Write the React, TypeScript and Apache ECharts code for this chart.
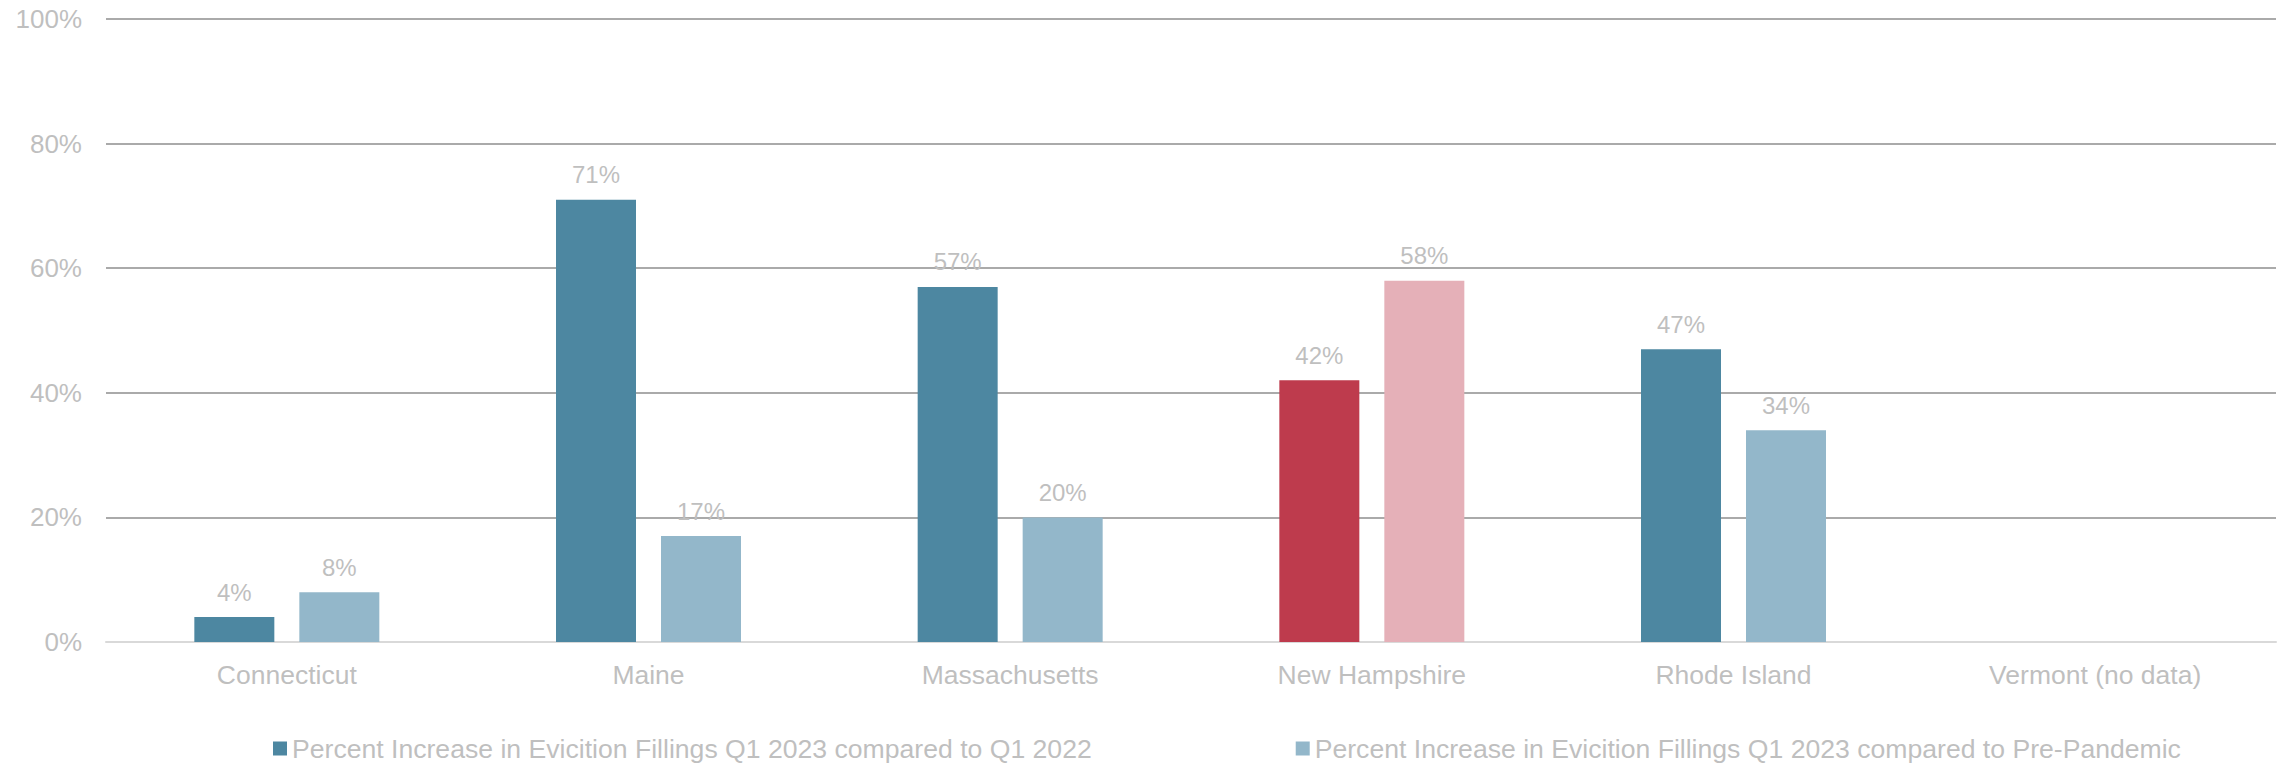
import React, { useEffect, useRef } from "react";
import * as echarts from "echarts";

const states = ["Connecticut", "Maine", "Massachusetts", "New Hampshire", "Rhode Island", "Vermont (no data)"];
const vsQ12022 = [4, 71, 57, 42, 47, null];
const vsPrePandemic = [8, 17, 20, 58, 34, null];
const seriesNames = [
  "Percent Increase in Evicition Fillings Q1 2023 compared to Q1 2022",
  "Percent Increase in Evicition Fillings Q1 2023 compared to Pre-Pandemic",
];
const yTicks = [0, 20, 40, 60, 80, 100];
const highlightState = "New Hampshire";

const DARK = "#4D87A1";
const LIGHT = "#93B7CA";
const RED = "#BE3B4D";
const PINK = "#E5B0B8";
const TEXT = "#BFBFBF";

export default function App() {
  const ref = useRef<HTMLDivElement>(null);
  useEffect(() => {
    document.body.style.margin = "0";
    const chart = echarts.init(ref.current!, null, { renderer: "svg" });
    const mk = (vals: (number | null)[], base: string, hi: string) =>
      vals.map((v, i) => ({
        value: v,
        itemStyle: { color: states[i] === highlightState ? hi : base },
      }));
    const label = {
      show: true,
      position: "top" as const,
      distance: 13,
      color: TEXT,
      fontSize: 24,
      fontFamily: "Liberation Sans, Arial, sans-serif",
      formatter: (p: any) => (p.value == null ? "" : p.value + "%"),
    };
    chart.setOption({
      animation: false,
      textStyle: { fontFamily: "Liberation Sans, Arial, sans-serif" },
      grid: { left: 106, right: 12, top: 19, bottom: 123, containLabel: false },
      legend: {
        left: 268,
        top: 730,
        itemWidth: 14,
        itemHeight: 14,
        itemGap: 204,
        icon: "rect",
        textStyle: { color: TEXT, fontSize: 26.6 },
        data: seriesNames,
      },
      xAxis: {
        type: "category",
        data: states,
        axisLine: { lineStyle: { color: "#D9D9D9", width: 2 } },
        axisTick: { show: false },
        axisLabel: { color: TEXT, fontSize: 26.5, margin: 19 },
      },
      yAxis: {
        type: "value",
        min: yTicks[0],
        max: yTicks[yTicks.length - 1],
        interval: yTicks[1] - yTicks[0],
        axisLine: { show: false },
        axisTick: { show: false },
        axisLabel: { color: TEXT, fontSize: 26, margin: 24, formatter: "{value}%" },
        splitLine: { lineStyle: { color: "#AAAAAA", width: 2 } },
      },
      series: [
        {
          name: seriesNames[0],
          type: "bar",
          barWidth: 80,
          barGap: "31.25%",
          itemStyle: { color: DARK },
          data: mk(vsQ12022, DARK, RED),
          label,
        },
        {
          name: seriesNames[1],
          type: "bar",
          barWidth: 80,
          itemStyle: { color: LIGHT },
          data: mk(vsPrePandemic, LIGHT, PINK),
          label,
        },
      ],
    });
    return () => chart.dispose();
  }, []);
  return <div ref={ref} style={{ width: 2288, height: 765 }} />;
}
